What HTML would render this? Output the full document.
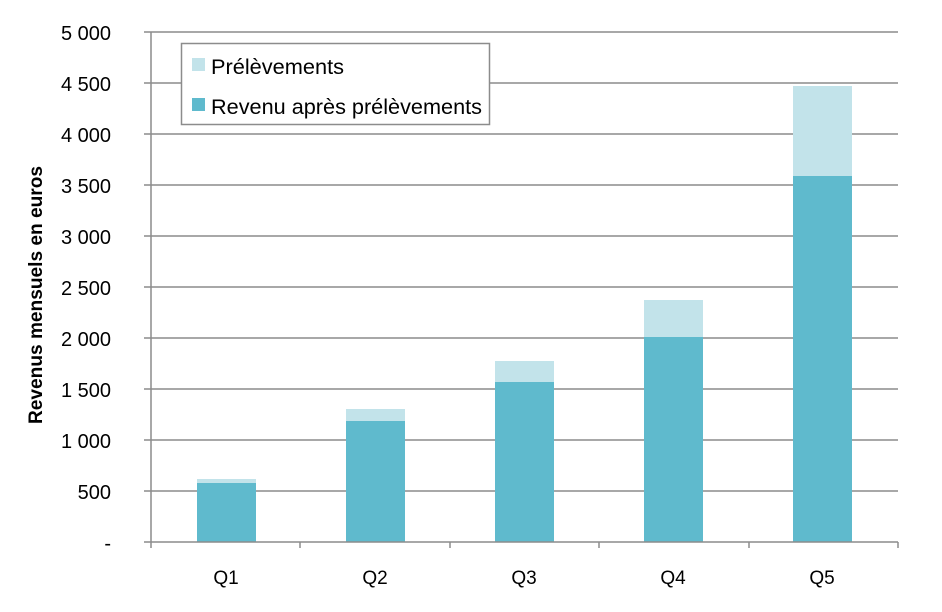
<!DOCTYPE html>
<html><head><meta charset="utf-8"><style>
body{margin:0;background:#fff}
svg text{font-family:"Liberation Sans",sans-serif;fill:#000}
</style></head><body>
<svg width="942" height="607" xmlns="http://www.w3.org/2000/svg">
<g stroke="#8c8c8c" stroke-width="1.5">
<line x1="144" y1="32" x2="898" y2="32"/><line x1="144" y1="83" x2="898" y2="83"/>
<line x1="144" y1="134" x2="898" y2="134"/><line x1="144" y1="185" x2="898" y2="185"/>
<line x1="144" y1="236" x2="898" y2="236"/><line x1="144" y1="287" x2="898" y2="287"/>
<line x1="144" y1="338" x2="898" y2="338"/><line x1="144" y1="389" x2="898" y2="389"/>
<line x1="144" y1="440" x2="898" y2="440"/><line x1="144" y1="491" x2="898" y2="491"/>
</g>
<g fill="#c2e3ea">
<rect x="197" y="479" width="59" height="63"/><rect x="346" y="409" width="59" height="133"/>
<rect x="495" y="361" width="59" height="181"/><rect x="644" y="300" width="59" height="242"/>
<rect x="793" y="86" width="59" height="456"/>
</g>
<g fill="#5fbacd">
<rect x="197" y="483" width="59" height="59"/><rect x="346" y="421" width="59" height="121"/>
<rect x="495" y="382" width="59" height="160"/><rect x="644" y="337" width="59" height="205"/>
<rect x="793" y="176" width="59" height="366"/>
</g>
<g stroke="#8c8c8c" stroke-width="1.5">
<line x1="151" y1="32" x2="151" y2="548"/><line x1="144" y1="542" x2="898" y2="542"/>
<line x1="300" y1="542" x2="300" y2="548"/><line x1="450" y1="542" x2="450" y2="548"/>
<line x1="599" y1="542" x2="599" y2="548"/><line x1="749" y1="542" x2="749" y2="548"/>
<line x1="898" y1="542" x2="898" y2="548"/>
</g>
<g font-size="20" text-anchor="end">
<text x="111" y="40">5 000</text><text x="111" y="91">4 500</text><text x="111" y="142">4 000</text>
<text x="111" y="193">3 500</text><text x="111" y="244">3 000</text><text x="111" y="295">2 500</text>
<text x="111" y="346">2 000</text><text x="111" y="397">1 500</text><text x="111" y="448">1 000</text>
<text x="111" y="499">500</text><text x="111" y="550">-</text>
</g>
<g font-size="19" text-anchor="middle">
<text x="226" y="584">Q1</text><text x="375" y="584">Q2</text><text x="524" y="584">Q3</text>
<text x="673" y="584">Q4</text><text x="822" y="584">Q5</text>
</g>
<text transform="translate(42,295) rotate(-90)" font-size="19.5" font-weight="bold" text-anchor="middle" textLength="258" lengthAdjust="spacingAndGlyphs">Revenus mensuels en euros</text>
<rect x="181.5" y="43.5" width="308" height="81" fill="#fff" stroke="#8c8c8c" stroke-width="1.5"/>
<rect x="192" y="58" width="13" height="13" fill="#c2e3ea"/>
<text x="211" y="74" font-size="21" textLength="133" lengthAdjust="spacingAndGlyphs">Prélèvements</text>
<rect x="192" y="98" width="13" height="13" fill="#5fbacd"/>
<text x="211" y="114" font-size="21" textLength="271" lengthAdjust="spacingAndGlyphs">Revenu après prélèvements</text>
</svg>
</body></html>
